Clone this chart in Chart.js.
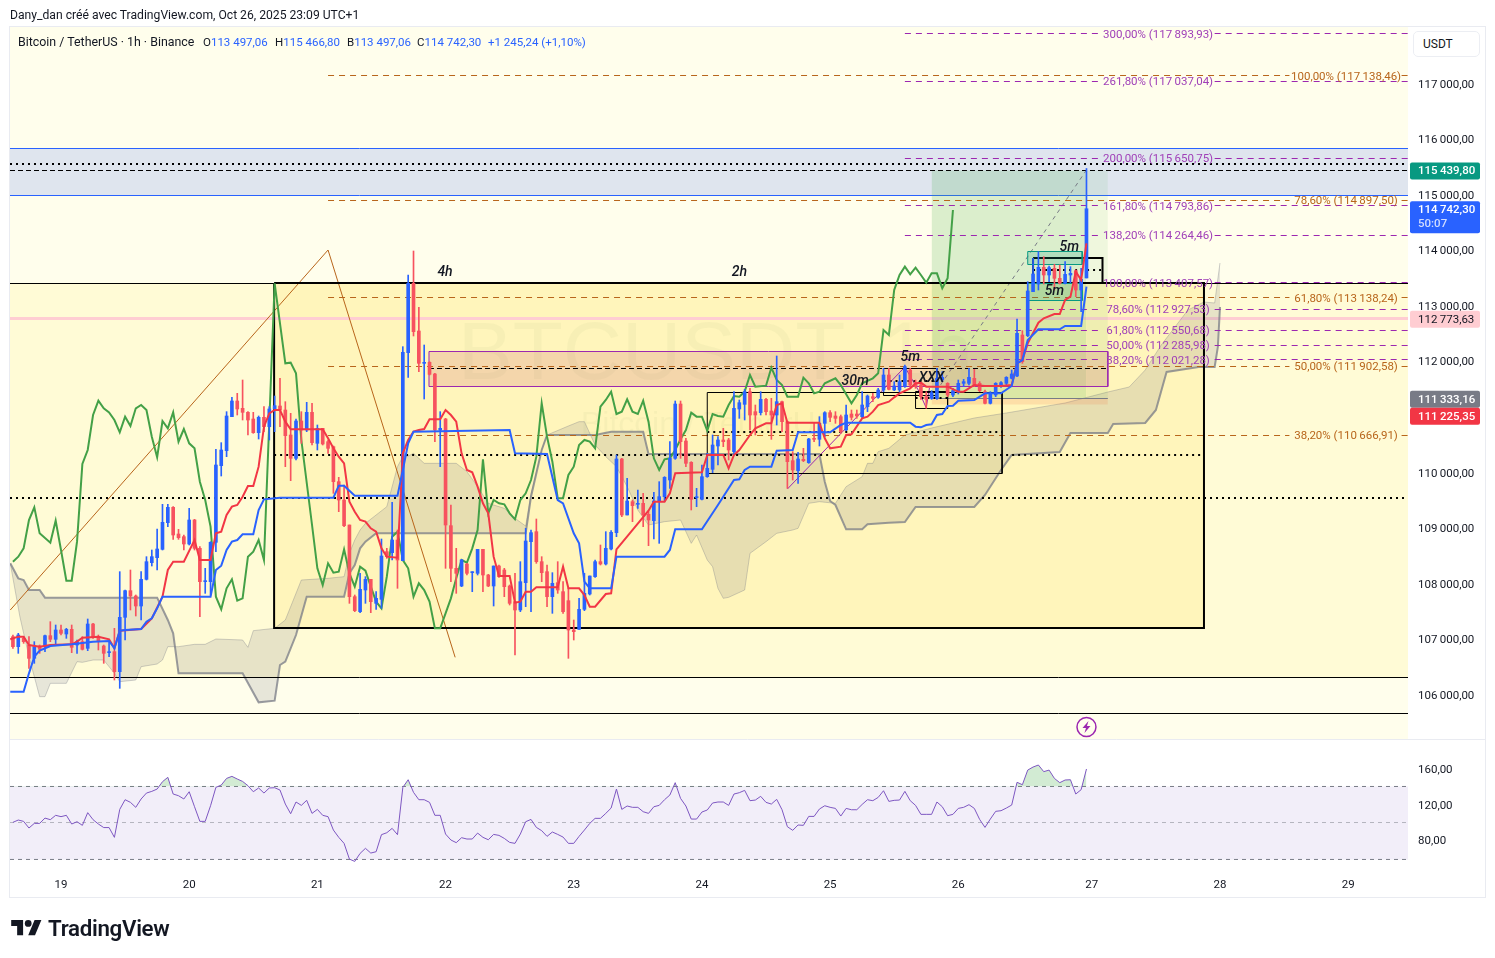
<!DOCTYPE html>
<html lang="fr">
<head>
<meta charset="utf-8">
<title>BTCUSDT 1h</title>
<script src="https://cdn.jsdelivr.net/npm/chart.js@4"></script>
<style>
  html, body { margin: 0; padding: 0; background: #fff; width: 1495px; height: 958px; overflow: hidden; }
  body { font-family: Roboto, "Liberation Sans", sans-serif; color: #131722; }
  canvas { position: absolute; left: 0; top: 0; }
  .txt { position: absolute; font-size: 11.5px; line-height: 14px; white-space: nowrap; }
  .val { color: #2962ff; }
  #usdt { position: absolute; left: 1413px; top: 31px; width: 67px; height: 26px; box-sizing: border-box; border: 1px solid #eceef3; border-radius: 5px; background: #fff; font-size: 12px; line-height: 24px; padding-left: 9px; }
  #logo { position: absolute; left: 11px; top: 920px; }
  #logoName { position: absolute; left: 48px; top: 914px; font-size: 22.3px; line-height: 28px; font-weight: 600; letter-spacing: -0.3px; color: #131722; }
</style>
</head>
<body>
<canvas id="chart" width="1495" height="958"></canvas>
<div class="txt" style="left:10px;top:8px;font-size:12.15px">Dany_dan créé avec TradingView.com, Oct 26, 2025 23:09 UTC+1</div>
<div class="txt" style="left:18px;top:35px;font-size:12.4px">Bitcoin / TetherUS · 1h · Binance</div>
<div class="txt" style="left:203px;top:35px">O<span class="val">113 497,06</span></div>
<div class="txt" style="left:275px;top:35px">H<span class="val">115 466,80</span></div>
<div class="txt" style="left:347px;top:35px">B<span class="val">113 497,06</span></div>
<div class="txt" style="left:417px;top:35px">C<span class="val">114 742,30</span></div>
<div class="txt val" style="left:488px;top:35px">+1 245,24 (+1,10%)</div>
<div id="usdt">USDT</div>
<svg id="logo" width="31" height="17" viewBox="0 0 36 20" fill="#131722"><path d="M14 18H7V7H0V0h14v18zM28 18h-8l7.5-18h8L28 18z"/><circle cx="20" cy="4" r="4"/></svg>
<div id="logoName">TradingView</div>

<script>
// bar 0 = Oct 19 00:00, one unit per hour
const firstBar = -9;
const viewStart = -9.55;
const viewEnd = 252.2;
const priceMin = 105198;
const priceMax = 118014;

const opens = [
  107040,106860,107010,106890,106650,106872,106860,107058,106992,107160,
  107088,107172,106890,106950,106830,107268,107040,106872,106752,106770,
  106410,107388,107868,107772,107592,108072,108372,108462,108612,109092,
  109368,108888,108840,108708,109140,108630,108030,108030,108738,110118,
  110388,111000,111282,111150,111078,110958,110712,110988,110820,111138,
  111192,111120,110670,110250,110922,110760,111078,110520,110790,110550,
  110460,109830,109500,109050,107760,107490,107880,108072,107640,107712,
  108570,108552,108780,108408,112152,113400,112542,111960,111978,111768,
  110760,110958,109038,108270,107952,108348,108192,108180,108612,108150,
  107952,108312,108240,107952,107670,107520,108012,108750,108930,108390,
  108210,107760,108012,107850,107688,107160,107172,107532,107808,108120,
  108390,108348,108618,108912,110238,109230,109470,109422,109440,109242,
  109128,109470,109560,109860,110250,111228,110562,110178,109542,109512,
  109920,110052,110472,110580,110580,110370,111138,111222,111450,111090,
  111072,111312,111102,111030,111270,110910,110208,110028,110232,110172,
  110610,110592,110880,111072,111012,111000,110760,111048,111048,111000,
  111180,111360,111348,111480,111750,111480,111480,111540,111840,111612,
  111570,111360,111330,111330,111660,111600,111390,111432,111600,111600,
  111690,111600,111450,111240,111390,111540,111600,111690,111732,112470,
  112458,113250,113388,113688,113550,113670,113490,113400,113550,113628,113280,113497.06
];
const highs = [
  107070,107100,107040,107040,106950,106890,107070,107310,107250,107250,
  107190,107250,106980,107040,107358,107280,107070,106890,106950,107190,
  108210,107880,108240,107790,108210,108480,108600,108978,109422,109422,
  109380,108972,108870,109350,109152,108660,108270,108750,110412,110532,
  111090,111348,111420,111660,111090,111078,111012,111180,111180,111372,
  111690,111270,111060,110958,111090,111258,111240,110850,110790,110580,
  110472,109908,109770,109050,107790,108180,108120,108072,107850,108798,
  108630,109458,108960,112260,113550,113982,112968,112290,111990,111780,
  111090,110970,109410,108630,108432,108360,108210,108612,108612,108162,
  108312,108330,108270,107970,108180,108390,108990,108960,109158,108480,
  108330,108192,108390,108030,107910,107340,107730,108180,108132,108420,
  108690,108930,108948,110310,110250,109890,109500,109680,109620,109290,
  109638,109830,109920,110550,111282,111282,110610,110190,109710,110130,
  110340,110670,110640,110790,110610,111450,111300,111492,111510,111210,
  111450,111330,111330,112092,111282,110922,110370,110358,110430,110610,
  110880,111000,111090,111108,111090,111030,111210,111120,111120,111450,
  111390,111420,111510,111870,111870,111630,111750,111930,111870,111660,
  111600,111450,111468,111870,111810,111612,111510,111660,111672,111870,
  111852,111630,111480,111450,111612,111630,111720,111840,112758,112548,
  113430,113850,113970,113880,113712,113742,113730,113790,113700,113640,113670,115466.8
];
const lows = [
  106830,106740,106920,106470,106560,106740,106770,106950,106890,107070,
  107010,106752,106740,106800,106788,107010,106800,106560,106680,106260,
  106110,106980,107520,107412,107340,108060,108312,108240,108600,109020,
  108792,108792,108600,108690,108600,107400,107820,107790,108570,109932,
  110280,111000,111030,110940,110670,110700,110598,110730,110580,110730,
  110820,110100,109848,110220,110520,110730,110490,110400,110490,110340,
  109620,109290,109020,107640,107490,107472,107640,107472,107532,107550,
  108450,108420,107910,108408,111708,112452,111810,111318,111750,110550,
  110100,108270,108030,107820,107940,108150,107850,108150,107850,107940,
  107592,108108,107760,107610,106710,107490,107580,107490,108360,108030,
  107580,107460,107820,107460,106650,106980,107172,107508,107790,108108,
  108330,108330,108600,108840,109200,109230,109110,109350,109020,108678,
  108798,108720,109470,109710,110232,110250,110100,109320,109380,109500,
  109908,109992,110130,110460,110220,110310,110970,110940,110760,110670,
  111030,111030,110592,110850,110730,109710,109860,109800,110190,110160,
  110550,110472,110640,110910,110880,110700,110748,110940,110970,110970,
  111090,111270,111330,111450,111480,111468,111450,111528,111528,111510,
  111312,111150,111312,111312,111630,111360,111360,111408,111540,111570,
  111540,111450,111228,111228,111360,111528,111570,111678,111720,111960,
  112440,113250,113280,113388,113430,113280,113388,113388,113412,113160,112890,113497.06
];
const closes = [
  106860,107070,106950,106650,106860,106812,107058,106992,107160,107100,
  107172,106848,106950,106812,107268,107040,106950,106740,106770,106410,
  107388,107868,107772,107592,108072,108390,108480,108618,109098,109368,
  108870,108822,108708,109140,108630,108030,108048,108738,110130,110400,
  111012,111282,111138,111078,110940,110712,110988,110820,111138,111198,
  111120,110658,110250,110922,110760,111078,110532,110790,110508,110430,
  109830,109500,109038,107760,107508,107892,108072,107670,107730,108492,
  108480,108780,108420,112158,113400,112530,111960,111972,111762,110760,
  110790,109050,108270,108180,108420,108180,108204,108612,108150,107952,
  108312,108120,107940,107640,107520,108030,108762,108912,108390,108192,
  107760,108000,107880,107490,107160,107130,107532,107820,108132,108390,
  108348,108630,108918,110238,109230,109482,109398,109434,109230,109140,
  109482,109560,109908,110250,111228,110550,110160,109512,109554,109920,
  110070,110490,110580,110550,110400,111150,111252,111450,111030,111030,
  111312,111090,111030,111270,110910,110190,110040,110238,110208,110598,
  110592,110880,111072,110988,110970,110730,111030,110988,111012,111210,
  111372,111330,111480,111750,111492,111552,111630,111900,111570,111540,
  111360,111312,111432,111690,111708,111390,111468,111600,111630,111708,
  111570,111468,111240,111420,111600,111612,111708,111768,112500,111990,
  113262,113568,113688,113550,113682,113490,113400,113562,113580,113280,113472,114742.3
];

// ichimoku lines, read as vertices (bar, price)
const tenkanBars = [-9.5,-8,-7,-6,-4,-2,2,3,4,7,9,10,11,15,17,19,20,21,23,25,26,28,29,30,31,32,33,34,35,36,37,38,39,40,41,42,43,49,50,51,52,53,54,55,56,57,58,59,60,61,63,64,65,66,67,68,69,71,72,73,74,75,76,77,78,79,80,81,82,84,85,86,87,88,89,93,94,95,97,98,99,100,102,103,104,110,111,113,114,115,120,121,124,125,126,127,129,130,132,133,134,135,136,142,143,144,146,147,148,150,151,152,153,155,156,157,159,160,161,162,166,168,169,171,173,176,178,179,180,181,183,184,186,187,188,189,190,191,192];
const tenkanPrices = [106992,107040,107040,106890,106860,106890,106902,106950,107022,107040,106992,106830,107148,107178,107370,107760,108240,108390,108390,108780,108420,108420,108900,108930,109230,109380,109410,109560,109752,109752,110100,110820,111060,111120,111120,110910,110772,110772,110610,110430,110280,110160,109470,109290,109140,109110,108990,108930,108630,108480,108462,110340,110580,110730,110760,110778,110952,110952,111120,111030,110910,110340,110040,109998,109740,109440,109260,108480,108132,108132,107652,107670,107850,107850,107928,107928,108300,107910,107910,107790,107580,107580,107808,107820,108612,109308,109470,109470,109620,109980,109998,110310,110310,110070,110310,110400,110670,110790,110880,110880,111210,111240,110892,110892,110610,110430,110460,110670,110682,110970,111000,111090,111210,111270,111348,111420,111510,111600,111612,111540,111540,111450,111450,111570,111552,111552,111570,111960,112020,112320,112692,112770,112848,112848,113100,113160,113610,113460,114120];

const kijunBars = [-9.5,-7,-6,-5,-4,-2,2,6,9,10,11,12,15,16,17,18,19,28,29,30,31,32,33,34,36,37,38,41,51,52,53,55,63,64,65,66,84,85,91,93,94,96,97,98,99,103,104,113,114,115,120,123,126,127,128,129,133,134,137,138,144,146,147,159,160,161,162,163,164,165,166,167,168,171,173,176,178,179,180,181,183,187,188,191,192];
const kijunPrices = [106050,106050,106380,106680,106788,106872,106902,106950,106962,106830,107148,107160,107178,107310,107370,107550,107760,107760,108240,108318,108600,108750,108780,108882,108882,109320,109512,109542,109542,109758,109758,109578,109578,110040,110520,110730,110760,110340,110328,109500,109440,108900,108720,108030,107910,107910,108480,108480,108600,108972,108972,109410,109860,109872,110040,110100,110100,110388,110400,110718,110718,110850,110892,110892,110820,110808,110850,110862,111030,111048,111192,111198,111288,111300,111420,111420,111552,111960,112020,112380,112572,112572,112632,112632,113340];

const chikouBars = [-9,-8,-7,-6,-5,-4,-2,-1,0,1,2,3,4,5,6,7,8,9,10,11,12,13,14,15,16,17,18,19,20,21,22,23,24,25,26,27,28,29,30,31,32,33,34,35,36,37,38,40,42,43,44,45,47,48,49,50,51,52,53,54,55,56,57,58,59,60,61,62,63,64,65,66,67,68,69,70,71,72,73,74,75,76,77,78,79,80,81,82,83,84,85,86,87,88,89,90,91,92,93,94,95,96,97,98,99,100,101,102,103,104,105,106,107,108,109,110,111,112,113,114,115,116,117,118,119,120,121,122,123,124,125,126,127,128,129,130,132,133,134,135,136,138,139,140,141,142,143,145,146,148,149,150,152,153,154,155,156,157,158,159,160,161,162,163,164,165,166,167];
const chikouPrices = [108390,108480,108630,109140,109368,108900,108732,109128,108600,108048,108048,108750,110148,110400,111030,111288,111150,111078,110940,110718,111000,110832,111150,111210,111120,110640,110268,110922,110790,111078,110550,110778,110520,110430,109830,109500,109020,107760,107532,107910,108072,107688,107730,108480,108570,108780,108420,113400,111960,111972,111780,110580,109050,108270,107970,108360,108192,108210,108612,108180,107940,108300,108228,107940,107670,107550,108120,108840,108930,108420,108270,107760,108000,107880,107670,107190,107190,107460,107730,108090,108420,108372,108630,108960,110232,109260,109500,109440,109422,109260,109152,109500,109620,109860,110280,111240,110640,110190,109530,109530,109950,110100,110490,110580,110550,110430,111180,111300,111450,111048,111090,111312,111090,111048,111288,110910,110250,110040,110232,110250,110400,110592,110760,111072,111000,111000,110748,111048,111012,111000,111210,111372,111360,111450,111750,111540,111558,111882,111660,111570,111360,111360,111702,111600,111420,111450,111600,111690,111570,111240,111390,111600,111690,111780,112560,112470,113280,113550,113700,113562,113682,113550,113412,113580,113580,113310,113490,114720];

const spanABars = [-9.5,-7.7,-6,-4,-3,-2,1,3,4,6,8,10,11,14,15,18,19,20,22,25,27,29,34,35,36,40,42,45,50,53,54,55,56,57,59,61,63,64,65,66,68,74,76,78,80,83,85,87,88,90,91,95,97,98,100,102,104,106,108,110,113,116,118,119,121,122,123,124,125,128,129,132,134,137,138,140,142,145,147,150,151,152,153,155,158,163,171,177,188,196,200,203,206,211,214,216,217];
const spanAPrices = [108360,107400,106680,105960,105960,106200,106200,106590,106578,106620,106620,106380,106230,106260,106500,106548,106620,106860,106860,106902,106902,106998,106980,106848,107148,107190,107340,108060,108090,108120,108540,108780,108960,109080,109230,109380,110100,110280,110292,110340,110160,110160,110010,109740,109440,109350,109170,109032,109620,110400,110670,110832,110910,110910,110490,110280,110100,109740,109320,109050,109110,109140,108720,108870,108420,108300,107910,107730,107748,107880,108540,108750,108900,108960,108990,109440,109470,109440,109740,109920,110160,110160,110370,110430,110670,110796,110976,111066,111246,111444,111534,111840,112290,112920,113064,113046,113766];
const spanBBars = [-9.5,-8,-7,-6,-4,-3,18,20,21,22,34,37,40,41,42,44,46,53,54,55,56,57,59,87,88,90,91,100,103,109,110,142,143,144,145,147,150,151,155,158,160,171,173,176,178,187,189,196,197,203,205,207,213,216,216.6,217];
const spanBPrices = [108360,108090,108060,107880,107880,107742,107742,107340,107100,106380,106380,105858,105888,106530,106590,107070,107760,107760,108180,108330,108630,108750,108900,108900,109560,110400,110670,110670,110730,110730,110328,110328,109830,109482,109410,108972,108972,109062,109092,109104,109374,109374,109590,110040,110310,110364,110706,110706,110868,110886,111120,111804,111894,111894,112254,112974];

const rsiValues = [
  99.9,102.5,101,93.5,98.7,98.7,104.7,102.9,107.8,106.3,107.8,98,100.6,96.5,110.8,102.9,98,94,94,83,
  114.5,125.4,122.4,116.8,126.2,132.9,134.8,137.4,145.7,150.6,131.8,129.9,126.2,134.4,117.5,101,101,118.6,139.3,141.9,
  149.4,151.7,148.7,146,141.2,134.4,138.6,132.9,138.6,138.9,136.3,120.5,109.6,122.8,119,124.7,110,114.5,107.8,106.3,
  91.2,83,76.2,58.5,55.9,64.9,70.6,65.3,66.8,86,88.2,93.1,86,139.3,147.9,133.7,125.4,125.4,122.4,107.8,
  107.8,86.7,80,77,82.6,81.1,81.1,87.8,83,80.3,86.3,85.2,81.8,77.3,76.2,86.7,100.6,103.2,94.2,90.5,
  84.1,89,86.3,83.3,76.2,76.2,84.1,91.2,98.7,104.4,104.4,110,116,137.4,114.5,118.3,116.8,116.8,111.9,110,
  117.5,119,125.4,130.7,144.6,126.9,118.3,103.6,103.6,111.5,113.8,121.7,122.8,122.8,119,131.8,133.3,135.9,
  124.3,125,129.2,122.4,120.5,125.8,114.1,95,90.9,96.9,96.5,106.6,106.6,114.9,118.6,116.8,115.6,107,115.6,114.1,
  114.1,120.1,125.4,124.3,128,135.5,123.5,124.7,125,134.8,124.3,119,108.9,108.9,108.9,122.8,117.5,107.4,108.9,115.6,
  116.8,119.8,115.6,103.2,94.2,103.6,112.3,113,116,119.4,145,142.3,158.8,162.2,164.5,157,158.8,149.4,144.6,147.6,
  147.9,131.8,136.7,160
];
const rsiUpper = 140.3;
const rsiMiddle = 99.7;
const rsiLower = 58.1;

// fibonacci levels
const fibPurplePrices = [117893.93,117037.04,115650.75,114793.86,114264.46,113407.57,112927.53,112550.68,112285.98,112021.28];
const fibPurpleLabels = ['300,00% (117\u2009893,93)','261,80% (117\u2009037,04)','200,00% (115\u2009650,75)','161,80% (114\u2009793,86)','138,20% (114\u2009264,46)','100,00% (113\u2009407,57)','78,60% (112\u2009927,53)','61,80% (112\u2009550,68)','50,00% (112\u2009285,98)','38,20% (112\u2009021,28)'];
const fibOrangePrices = [117138.46,114897.5,113138.24,111902.58,110666.91];
const fibOrangeLabels = ['100,00% (117\u2009138,46)','78,60% (114\u2009897,50)','61,80% (113\u2009138,24)','50,00% (111\u2009902,58)','38,20% (110\u2009666,91)'];

// axes
const dayTicks = [0,24,48,72,96,120,144,168,193,217,241];
const dayLabels = ['19','20','21','22','23','24','25','26','27','28','29'];
const priceTicks = [106000,107000,108000,109000,110000,112000,113000,114000,115000,116000,117000];
const priceLabels = ['106\u2009000,00','107\u2009000,00','108\u2009000,00','109\u2009000,00','110\u2009000,00','112\u2009000,00','113\u2009000,00','114\u2009000,00','115\u2009000,00','116\u2009000,00','117\u2009000,00'];
const rsiTicks = [80,120,160];
const rsiLabels = ['80,00','120,00','160,00'];

// drawn notes on the chart
const noteTexts = ['4h','2h','5m','30m','XXX','5m','5m'];
const noteBars = [71.9,127,159,148.7,163,188.8,186];
const notePrices = [113622,113622,112092,111660,111714,114072,113280];

// price tags on the right axis
const tagPrices = [115439.8,114742.3,112773.63,111333.16,111225.35];
const tagTexts = ['115\u2009439,80','114\u2009742,30','112\u2009773,63','111\u2009333,16','111\u2009225,35'];
const tagColors = ['#089981','#2962ff','#ffcdd2','#787b86','#f23645'];
const tagInk = ['#fff','#fff','#131722','#fff','#fff'];
const tagShift = [1,1,1,1,12];

const candleBlue = '#2962ff';
const candleRed = '#f7525f';
const purple = '#9c27b0';
const orange = '#b8651b';
const black = '#000';

// 18 price units per pixel in the main pane: keep thin rules on whole pixels
const unitsPerPixel = (priceMax - priceMin) / 712;
function crisp(price, width) {
  const px = (priceMax - price) / unitsPerPixel;
  const snapped = width % 2 === 1 ? Math.floor(px) + 0.5 : Math.round(px);
  return priceMax - snapped * unitsPerPixel;
}

const datasets = [];
function add(ds) {
  ds.order = 1000 - datasets.length;
  datasets.push(ds);
}
function line(points, color, width, dash, extra) {
  add(Object.assign({
    type: 'line', data: points, borderColor: color, borderWidth: width, borderDash: dash || [],
    pointRadius: 0, tension: 0, fill: false, borderCapStyle: 'butt'
  }, extra || {}));
}
function pairs(bars, prices) {
  return bars.map((b, i) => ({ x: b, y: prices[i] }));
}
function hline(x0, x1, price, color, width, dash, extra) {
  const y = extra && extra.yAxisID ? price : crisp(price, width);
  line([{ x: x0, y: y }, { x: x1, y: y }], color, width, dash, extra);
}
// rectangle: flat fill down to a value, then the outline on top
function box(x0, x1, top, bottom, fillColor, edge, edgeWidth) {
  const t = crisp(top, edgeWidth || 1), b = crisp(bottom, edgeWidth || 1);
  if (fillColor) {
    line([{x:x0,y:t},{x:x1,y:t}], 'rgba(0,0,0,0)', 0, [], { fill: { target: { value: b } }, backgroundColor: fillColor });
  }
  if (edge) {
    line([{x:x0,y:t},{x:x1,y:t},{x:x1,y:b},{x:x0,y:b},{x:x0,y:t}], edge, edgeWidth);
  }
}
function fibLevel(x0, x1, price, gapFrom, gapTo, color) {
  const y = crisp(price, 1);
  line([{x:x0,y:y},{x:gapFrom,y:y},{x:gapFrom,y:null},{x:gapTo,y:y},{x:x1,y:y}], color, 1, [6, 5]);
}

// bands behind everything
box(viewStart, viewEnd, 113406, 106314, 'rgba(255,235,100,0.16)', null);
box(viewStart, viewEnd, 115836, 114990, '#dfe5ee', null);
hline(viewStart, viewEnd, 115836, candleBlue, 1);
hline(viewStart, viewEnd, 114990, candleBlue, 1);
box(39.9, 214, 113406, 107196, 'rgba(255,225,80,0.2)', null);
box(121, 176.2, 111444, 109981, 'rgba(255,225,80,0.1)', null);
hline(viewStart, viewEnd, 112773.63, '#ffcdd2', 3);

// ichimoku cloud
line(pairs(spanABars, spanAPrices), 'rgba(120,123,134,0.35)', 1, [], { fill: '+1', backgroundColor: 'rgba(120,123,134,0.18)' });
line(pairs(spanBBars, spanBPrices), 'rgba(120,123,134,0.75)', 2);

// trade box
box(163, 192, 115439.8, 111333.16, 'rgba(76,175,80,0.2)', null);
box(192, 196, 115439.8, 111333.16, 'rgba(76,175,80,0.09)', null);
box(163, 196, 111333.16, 111225.35, 'rgba(244,110,60,0.16)', null);
hline(163, 196, 111333.16, '#787b86', 1);
line([{x:163,y:111333.16},{x:192,y:115439.8}], '#787b86', 1, [4, 4]);

// purple zone
box(68.9, 196, 112182, 111552, 'rgba(200,90,110,0.2)', purple, 1);

// fib levels
fibOrangePrices.forEach(p => fibLevel(50, viewEnd, p, 230, 251, orange));
fibPurplePrices.forEach(p => fibLevel(158, viewEnd, p, 194.7, 216, purple));

// drawings
line([{x:-9.5,y:107520},{x:50,y:114000},{x:73.8,y:106668}], orange, 1);
line([{x:136,y:109698},{x:158,y:111894},{x:160.5,y:111480},{x:162,y:111160},{x:162.6,y:111516}], purple, 1);
hline(viewStart, viewEnd, 113406, black, 1);
hline(viewStart, viewEnd, 106314, black, 1);
hline(viewStart, viewEnd, 105666, black, 1);
hline(viewStart, viewEnd, 115540, black, 2, [2, 4]);
hline(viewStart, viewEnd, 115439.8, black, 1, [5, 3]);
hline(viewStart, viewEnd, 109536, black, 2, [2, 4]);
hline(39.9, 214, 110310, black, 2, [2, 4]);
hline(121, 176.2, 110730, black, 2, [2, 4]);
hline(68.9, 196, 111876, black, 1, [5, 3]);
hline(154, 164, 111642, black, 2, [2, 4]);
hline(160, 166, 111336, black, 2, [2, 4]);
hline(182, 195, 113640, black, 2, [2, 4]);
box(39.9, 214, 113406, 107196, null, black, 2);
box(121, 176.2, 111444, 109981, null, black, 1);
box(154, 164, 111876, 111390, null, black, 1);
box(160, 166, 111449, 111156, null, black, 1);
box(182, 195, 113861, 113400, null, black, 2);
box(181, 191.2, 113970, 113743, 'rgba(8,153,129,0.2)', '#089981', 1);
box(181, 191.2, 113406, 113087, 'rgba(8,153,129,0.2)', '#089981', 1);

// chikou under the candles
line(pairs(chikouBars, chikouPrices), '#43a047', 2);

// candles
const candleBars = opens.map((o, i) => firstBar + i);
const candleColors = opens.map((o, i) => closes[i] >= o ? candleBlue : candleRed);
add({
  type: 'bar', data: candleBars.map((b, i) => ({ x: b, y: [lows[i], highs[i]] })),
  backgroundColor: candleColors, barThickness: 1, grouped: false
});
add({
  type: 'bar', data: candleBars.map((b, i) => ({ x: b, y: [opens[i], closes[i]] })),
  backgroundColor: candleColors, barThickness: 3, minBarLength: 1, grouped: false
});

line(pairs(tenkanBars, tenkanPrices), '#f23645', 2);
line(pairs(kijunBars, kijunPrices), candleBlue, 2);

// rsi pane
hline(viewStart, viewEnd, rsiUpper, 'rgba(0,0,0,0)', 0, [], { yAxisID: 'rsi', fill: { target: { value: rsiLower } }, backgroundColor: 'rgba(126,87,194,0.1)' });
hline(viewStart, viewEnd, rsiUpper, '#787b86', 1, [4, 4], { yAxisID: 'rsi' });
hline(viewStart, viewEnd, rsiMiddle, 'rgba(120,123,134,0.5)', 1, [4, 4], { yAxisID: 'rsi' });
hline(viewStart, viewEnd, rsiLower, '#787b86', 1, [4, 4], { yAxisID: 'rsi' });
line(rsiValues.map((v, i) => ({ x: firstBar + i, y: v })), '#7e57c2', 1, [], {
  yAxisID: 'rsi',
  fill: { target: { value: rsiUpper }, above: 'rgba(76,175,80,0.25)', below: 'rgba(0,0,0,0)' }
});

const paneFrame = {
  id: 'paneFrame',
  beforeDraw(chart) {
    const c = chart.ctx, y = chart.scales.y, r = chart.scales.rsi, a = chart.chartArea;
    c.save();
    c.fillStyle = '#fff';
    c.fillRect(0, 0, chart.width, chart.height);
    c.fillStyle = '#fffeec';
    c.fillRect(a.left, y.top, a.right - a.left, y.bottom - y.top);
    c.strokeStyle = '#e9ebf1';
    c.lineWidth = 1;
    c.strokeRect(9.5, 26.5, 1476, 871);
    c.beginPath();
    c.moveTo(a.left, r.top + 0.5);
    c.lineTo(1485, r.top + 0.5);
    c.stroke();
    c.restore();
  },
  beforeDatasetsDraw(chart) {
    const c = chart.ctx;
    c.save();
    c.fillStyle = 'rgba(120,123,134,0.07)';
    c.textAlign = 'left';
    c.textBaseline = 'middle';
    c.font = '82px "Liberation Sans"';
    c.fillText('BTCUSDT, 1h', 458, 356);
    c.textAlign = 'center';
    c.font = '32px "Liberation Sans"';
    c.fillText('Bitcoin / TetherUS', 709, 425);
    c.restore();
  }
};

const chartNotes = {
  id: 'chartNotes',
  afterDatasetsDraw(chart) {
    const c = chart.ctx, x = chart.scales.x, y = chart.scales.y;
    c.save();
    c.textBaseline = 'middle';
    c.textAlign = 'center';
    c.font = '11.5px Roboto';
    c.fillStyle = '#a040b8';
    fibPurplePrices.forEach((p, i) => c.fillText(fibPurpleLabels[i], x.getPixelForValue(205.4), y.getPixelForValue(p) + 1));
    c.fillStyle = orange;
    fibOrangePrices.forEach((p, i) => c.fillText(fibOrangeLabels[i], x.getPixelForValue(240.6), y.getPixelForValue(p) + 1));
    c.fillStyle = '#131722';
    c.font = 'italic 500 14px Roboto';
    noteTexts.forEach((t, i) => c.fillText(t, x.getPixelForValue(noteBars[i]), y.getPixelForValue(notePrices[i]) + 1));

    // alert icon under the last candle
    const ix = x.getPixelForValue(192), iy = y.getPixelForValue(105414);
    c.strokeStyle = purple;
    c.lineWidth = 1.5;
    c.beginPath();
    c.arc(ix, iy, 9.5, 0, Math.PI * 2);
    c.stroke();
    c.fillStyle = purple;
    c.beginPath();
    c.moveTo(ix + 2, iy - 6);
    c.lineTo(ix - 4, iy + 1);
    c.lineTo(ix - 0.5, iy + 1);
    c.lineTo(ix - 2, iy + 6);
    c.lineTo(ix + 4, iy - 1);
    c.lineTo(ix + 0.5, iy - 1);
    c.closePath();
    c.fill();
    c.restore();
  },
  afterDraw(chart) {
    const c = chart.ctx, y = chart.scales.y;
    c.save();
    c.textBaseline = 'middle';
    tagPrices.forEach((p, i) => {
      const py = y.getPixelForValue(p) + tagShift[i];
      const h = i === 1 ? 32 : 17;
      c.fillStyle = tagColors[i];
      c.beginPath();
      c.roundRect(1410, py - 8.5, 70, h, 2);
      c.fill();
      c.fillStyle = tagInk[i];
      c.font = (tagInk[i] === '#fff' ? '500 ' : '') + '11.5px Roboto';
      c.fillText(tagTexts[i], 1418, py + 0.5);
      if (i === 1) {
        c.fillStyle = '#cfdbff';
        c.fillText('50:07', 1418, py + 14.5);
      }
    });
    c.restore();
  }
};

new Chart(document.getElementById('chart'), {
  type: 'line',
  data: { datasets },
  options: {
    responsive: false,
    devicePixelRatio: 1,
    animation: false,
    events: [],
    layout: { padding: { left: 10, top: 27, right: 10, bottom: 61 } },
    plugins: { legend: { display: false }, tooltip: { enabled: false } },
    scales: {
      x: {
        type: 'linear', min: viewStart, max: viewEnd, offset: false,
        grid: { display: false, drawTicks: false }, border: { display: false },
        afterBuildTicks(s) { s.ticks = dayTicks.map(v => ({ value: v })); },
        afterFit(s) { s.height = 27; },
        ticks: {
          autoSkip: false, maxRotation: 0, padding: 8, color: '#131722',
          font: { family: 'Roboto', size: 11.5 },
          callback: v => dayLabels[dayTicks.indexOf(v)]
        }
      },
      y: {
        type: 'linear', position: 'right', stack: 'panes', stackWeight: 712,
        min: priceMin, max: priceMax,
        grid: { display: false, drawTicks: false }, border: { display: false },
        afterBuildTicks(s) { s.ticks = priceTicks.map(v => ({ value: v })); },
        afterFit(s) { s.width = 77; },
        ticks: {
          autoSkip: false, padding: 10, color: '#131722', labelOffset: 1.5,
          font: { family: 'Roboto', size: 11.5 },
          callback: v => priceLabels[priceTicks.indexOf(v)]
        }
      },
      rsi: {
        type: 'linear', position: 'right', stack: 'panes', stackWeight: 131,
        min: 46.2, max: 193.8,
        grid: { display: false, drawTicks: false }, border: { display: false },
        afterBuildTicks(s) { s.ticks = rsiTicks.map(v => ({ value: v })); },
        afterFit(s) { s.width = 77; },
        ticks: {
          autoSkip: false, padding: 10, color: '#131722', labelOffset: 1.5,
          font: { family: 'Roboto', size: 11.5 },
          callback: v => rsiLabels[rsiTicks.indexOf(v)]
        }
      }
    }
  },
  plugins: [paneFrame, chartNotes]
});
</script>
</body>
</html>
